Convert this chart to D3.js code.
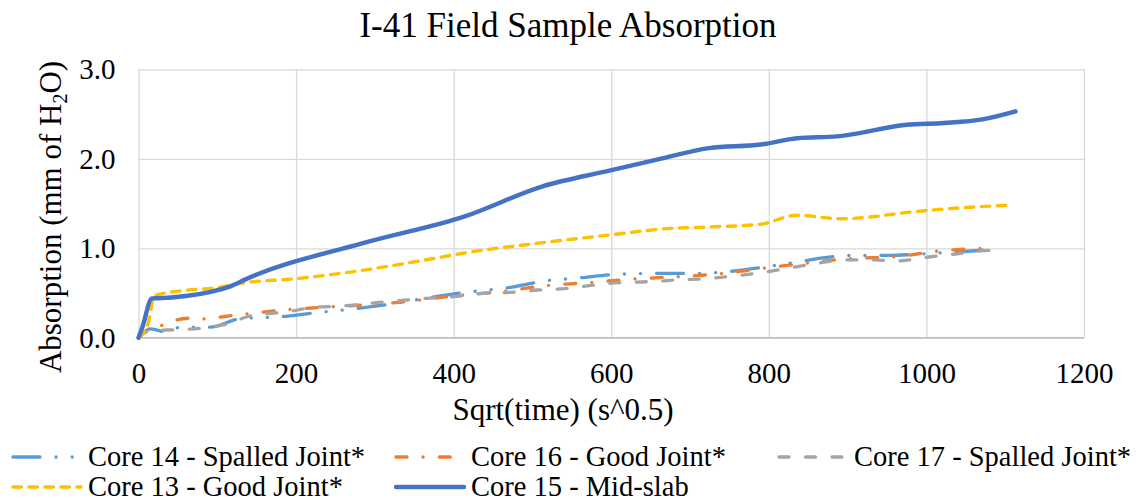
<!DOCTYPE html>
<html>
<head>
<meta charset="utf-8">
<script src="https://cdn.jsdelivr.net/npm/d3@7"></script>
<style>
  html, body { margin: 0; padding: 0; background: #fff; }
  svg { display: block; font-family: "Liberation Serif", "Times New Roman", serif; }
</style>
</head>
<body>
<svg id="chart" width="1145" height="503"></svg>
<script>
// ---- data ----
const chartTitle = "I-41 Field Sample Absorption";
const xTicks = [0, 200, 400, 600, 800, 1000, 1200];
const yTicks = [0, 1, 2, 3];

const core14 = [[0,0],[15,0.10],[32,0.07],[55,0.12],[91,0.12],[127,0.21],[186,0.24],[224,0.28],[270,0.32],[322,0.38],[370,0.45],[417,0.51],[470,0.56],[512,0.63],[560,0.67],[609,0.71],[660,0.72],[707,0.72],[760,0.75],[802,0.80],[845,0.86],[885,0.91],[905,0.92],[950,0.92],[1000,0.94],[1092,0.99]];
const core16 = [[0,0],[10,0.08],[30,0.14],[49,0.20],[68,0.22],[86,0.21],[103,0.23],[125,0.255],[161,0.29],[180,0.31],[215,0.33],[252,0.35],[290,0.37],[322,0.39],[345,0.41],[402,0.47],[460,0.515],[514,0.58],[569,0.615],[624,0.654],[683,0.683],[736,0.713],[793,0.777],[846,0.832],[901,0.884],[961,0.906],[1016,0.97],[1073,1.00]];
const core17 = [[0,0],[15,0.08],[36,0.087],[82,0.11],[115,0.16],[138,0.235],[165,0.27],[188,0.29],[222,0.34],[258,0.355],[294,0.385],[330,0.414],[366,0.441],[400,0.459],[436,0.497],[472,0.508],[506,0.534],[541,0.549],[578,0.59],[612,0.616],[647,0.627],[683,0.646],[719,0.66],[755,0.69],[789,0.727],[825,0.777],[861,0.832],[895,0.87],[931,0.87],[965,0.86],[1001,0.90],[1037,0.936],[1071,0.973],[1085,0.98]];
const core13 = [[0,0],[12,0.15],[20,0.47],[60,0.53],[100,0.56],[130,0.61],[199,0.66],[273,0.74],[358,0.86],[415,0.95],[510,1.06],[599,1.15],[671,1.22],[730,1.24],[790,1.27],[836,1.37],[891,1.33],[997,1.42],[1040,1.45],[1102,1.48]];
const core15 = [[0,0],[5,0.12],[17,0.44],[42,0.45],[104,0.54],[118,0.58],[135,0.65],[286,1.06],[415,1.36],[512,1.69],[599,1.87],[658,1.99],[724,2.12],[790,2.16],[836,2.23],[887,2.25],[975,2.38],[1022,2.40],[1071,2.44],[1113,2.53]];

const seriesNames = ["Core 14 - Spalled Joint*", "Core 16 - Good Joint*", "Core 17 - Spalled Joint*", "Core 13 - Good Joint*", "Core 15 - Mid-slab"];
const seriesData = [core14, core16, core17, core13, core15];

// ---- styles (not data) ----
const styles = [
  { color: "#5B9BD5", width: 3.3, dash: "27,16,0.1,16,0.1,16" },
  { color: "#ED7D31", width: 3.3, dash: "11,16,0.1,16.2" },
  { color: "#A5A5A5", width: 3.3, dash: "10,16.5" },
  { color: "#FFC000", width: 3.4, dash: "8.5,7.5" },
  { color: "#4472C4", width: 4.4, dash: null }
];
const legendPos = [
  { x: 11, y: 457 }, { x: 394, y: 457 }, { x: 777, y: 457 },
  { x: 11, y: 487 }, { x: 394, y: 487 }
];

const svg = d3.select("#chart");
const plotL = 138.5, plotR = 1084, plotT = 69.3, plotB = 337.8;
const x = d3.scaleLinear().domain([0, 1200]).range([plotL, plotR]);
const y = d3.scaleLinear().domain([0, 3]).range([plotB, plotT]);

// title
svg.append("text").attr("x", 568).attr("y", 37).attr("text-anchor", "middle")
  .attr("font-size", 35).attr("fill", "#000").text(chartTitle);

// grid
const gx = svg.append("g").attr("transform", `translate(0,${plotB})`)
  .call(d3.axisBottom(x).tickValues(xTicks).tickSize(-(plotB - plotT)).tickFormat(""));
gx.select(".domain").remove();
gx.selectAll(".tick line").attr("stroke", "#D9D9D9").attr("stroke-width", 1.3);

const gy = svg.append("g").attr("transform", `translate(${plotL},0)`)
  .call(d3.axisLeft(y).tickValues(yTicks).tickSize(-(plotR - plotL)).tickFormat(""));
gy.select(".domain").remove();
gy.selectAll(".tick line").attr("stroke", "#D9D9D9").attr("stroke-width", 1.3);

// x axis line
svg.append("line").attr("x1", plotL).attr("x2", plotR).attr("y1", y(0)).attr("y2", y(0))
  .attr("stroke", "#BFBFBF").attr("stroke-width", 1.6);

// tick labels
const xl = svg.append("g").attr("transform", `translate(0,${plotB})`)
  .call(d3.axisBottom(x).tickValues(xTicks).tickSize(0).tickPadding(0).tickFormat(d3.format("d")));
xl.select(".domain").remove();
xl.attr("font-family", null);
xl.selectAll("text").attr("font-size", 29).attr("fill", "#000")
  .attr("dy", null).attr("y", 45);

const yl = svg.append("g").attr("transform", `translate(${plotL},0)`)
  .call(d3.axisLeft(y).tickValues(yTicks).tickSize(0).tickPadding(0).tickFormat(d3.format(".1f")));
yl.select(".domain").remove();
yl.attr("font-family", null);
yl.selectAll("text").attr("font-size", 29).attr("fill", "#000")
  .attr("x", -23).attr("dy", "0.33em");

// axis titles
svg.append("text").attr("x", 563).attr("y", 420).attr("text-anchor", "middle")
  .attr("font-size", 31).attr("fill", "#000").text("Sqrt(time) (s^0.5)");

const yt = svg.append("text").attr("transform", "translate(61,217) rotate(-90)")
  .attr("text-anchor", "middle").attr("font-size", 31).attr("fill", "#000");
yt.append("tspan").text("Absorption (mm of H");
yt.append("tspan").attr("font-size", 20).attr("dy", 6).text("2");
yt.append("tspan").attr("dy", -6).text("O)");

// lines
const line = d3.line().x(d => x(d[0])).y(d => y(d[1])).curve(d3.curveMonotoneX);
seriesData.forEach((data, i) => {
  const s = styles[i];
  svg.append("path").datum(data).attr("d", line)
    .attr("fill", "none").attr("stroke", s.color).attr("stroke-width", s.width)
    .attr("stroke-linecap", "round").attr("stroke-linejoin", "round")
    .attr("stroke-dasharray", s.dash);
});

// legend
const lg = svg.append("g");
seriesNames.forEach((name, i) => {
  const s = styles[i], p = legendPos[i];
  lg.append("line").attr("x1", p.x + 2).attr("x2", p.x + 70).attr("y1", p.y).attr("y2", p.y)
    .attr("stroke", s.color).attr("stroke-width", s.width)
    .attr("stroke-linecap", "round").attr("stroke-dasharray", s.dash);
  lg.append("text").attr("x", p.x + 77).attr("y", p.y).attr("dy", "0.33em")
    .attr("font-size", 28.5).attr("fill", "#000").text(name);
});
</script>
</body>
</html>
